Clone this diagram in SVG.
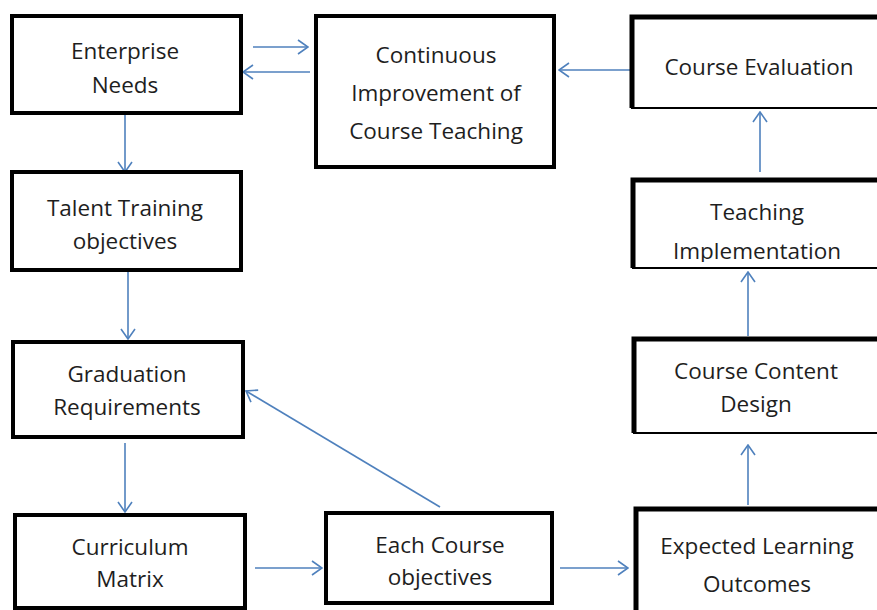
<svg xmlns="http://www.w3.org/2000/svg" width="877" height="610" viewBox="0 0 877 610">
<defs>
<style>
.box{fill:#fff;stroke:#000;stroke-width:4}
.thin{fill:#fff;stroke:#000;stroke-width:2}
.tl{fill:none;stroke:#000;stroke-width:5}
.lbl{font-family:"Open Sans","Liberation Sans",sans-serif;font-size:22.5px;fill:#1e1e1e;text-anchor:middle}
.c line{stroke:#4f81bd;stroke-width:1.6;fill:none}
</style>
<marker id="ah" viewBox="0 0 12 16" refX="11" refY="8" markerWidth="12" markerHeight="16" markerUnits="userSpaceOnUse" orient="auto">
<path d="M1,1 L11,8 L1,15" fill="none" stroke="#4f81bd" stroke-width="1.6"/>
</marker>
<clipPath id="tiClip"><rect x="633" y="180" width="244" height="82"/></clipPath>
</defs>
<rect width="877" height="610" fill="#fff"/>
<g class="c">
<line x1="253" y1="47" x2="308" y2="47" marker-end="url(#ah)"/>
<line x1="310" y1="72" x2="243" y2="72" marker-end="url(#ah)"/>
<line x1="631" y1="70" x2="559" y2="70" marker-end="url(#ah)"/>
<line x1="125" y1="113" x2="125" y2="172" marker-end="url(#ah)"/>
<line x1="128" y1="270" x2="128" y2="339" marker-end="url(#ah)"/>
<line x1="125" y1="443" x2="125" y2="512" marker-end="url(#ah)"/>
<line x1="255" y1="568" x2="322" y2="568" marker-end="url(#ah)"/>
<line x1="440" y1="507" x2="246" y2="391" marker-end="url(#ah)"/>
<line x1="560" y1="568" x2="628" y2="568" marker-end="url(#ah)"/>
<line x1="748" y1="505" x2="748" y2="445" marker-end="url(#ah)"/>
<line x1="748" y1="336" x2="748" y2="272" marker-end="url(#ah)"/>
<line x1="760" y1="172" x2="760" y2="112" marker-end="url(#ah)"/>
</g>
<g id="enterprise-needs">
<rect class="box" x="12" y="16" width="229" height="97"/>
<text class="lbl" x="125" y="59">Enterprise</text>
<text class="lbl" x="125" y="93">Needs</text>
</g>
<g id="continuous-improvement">
<rect class="box" x="316" y="16" width="238" height="151"/>
<text class="lbl" x="436" y="63">Continuous</text>
<text class="lbl" x="436" y="101">Improvement of</text>
<text class="lbl" x="436" y="139">Course Teaching</text>
</g>
<g id="course-evaluation">
<rect class="thin" x="632" y="17" width="250" height="91"/>
<path class="tl" d="M632,108 V17 H877"/>
<text class="lbl" x="759" y="75">Course Evaluation</text>
</g>
<g id="talent-training">
<rect class="box" x="12" y="172" width="229" height="98"/>
<text class="lbl" x="125" y="216">Talent Training</text>
<text class="lbl" x="125" y="249">objectives</text>
</g>
<g id="teaching-implementation">
<rect class="thin" x="633" y="180" width="250" height="88"/>
<path class="tl" d="M633,268 V180 H877"/>
<g clip-path="url(#tiClip)">
<text class="lbl" x="757" y="220">Teaching</text>
<text class="lbl" x="757" y="259">Implementation</text>
</g>
</g>
<g id="graduation-requirements">
<rect class="box" x="13" y="342" width="230" height="95"/>
<text class="lbl" x="127" y="382">Graduation</text>
<text class="lbl" x="127" y="415">Requirements</text>
</g>
<g id="course-content-design">
<rect class="thin" x="634" y="339" width="250" height="94"/>
<path class="tl" d="M634,433 V339 H877"/>
<text class="lbl" x="756" y="379">Course Content</text>
<text class="lbl" x="756" y="412">Design</text>
</g>
<g id="curriculum-matrix">
<rect class="box" x="15" y="515" width="230" height="93"/>
<text class="lbl" x="130" y="555">Curriculum</text>
<text class="lbl" x="130" y="587">Matrix</text>
</g>
<g id="each-course-objectives">
<rect class="box" x="326" y="513" width="226" height="90"/>
<text class="lbl" x="440" y="553">Each Course</text>
<text class="lbl" x="440" y="585">objectives</text>
</g>
<g id="expected-learning-outcomes">
<rect class="thin" x="636" y="509" width="250" height="110"/>
<path class="tl" d="M636,610 V509 H877"/>
<text class="lbl" x="757" y="554">Expected Learning</text>
<text class="lbl" x="757" y="592">Outcomes</text>
</g>
</svg>
